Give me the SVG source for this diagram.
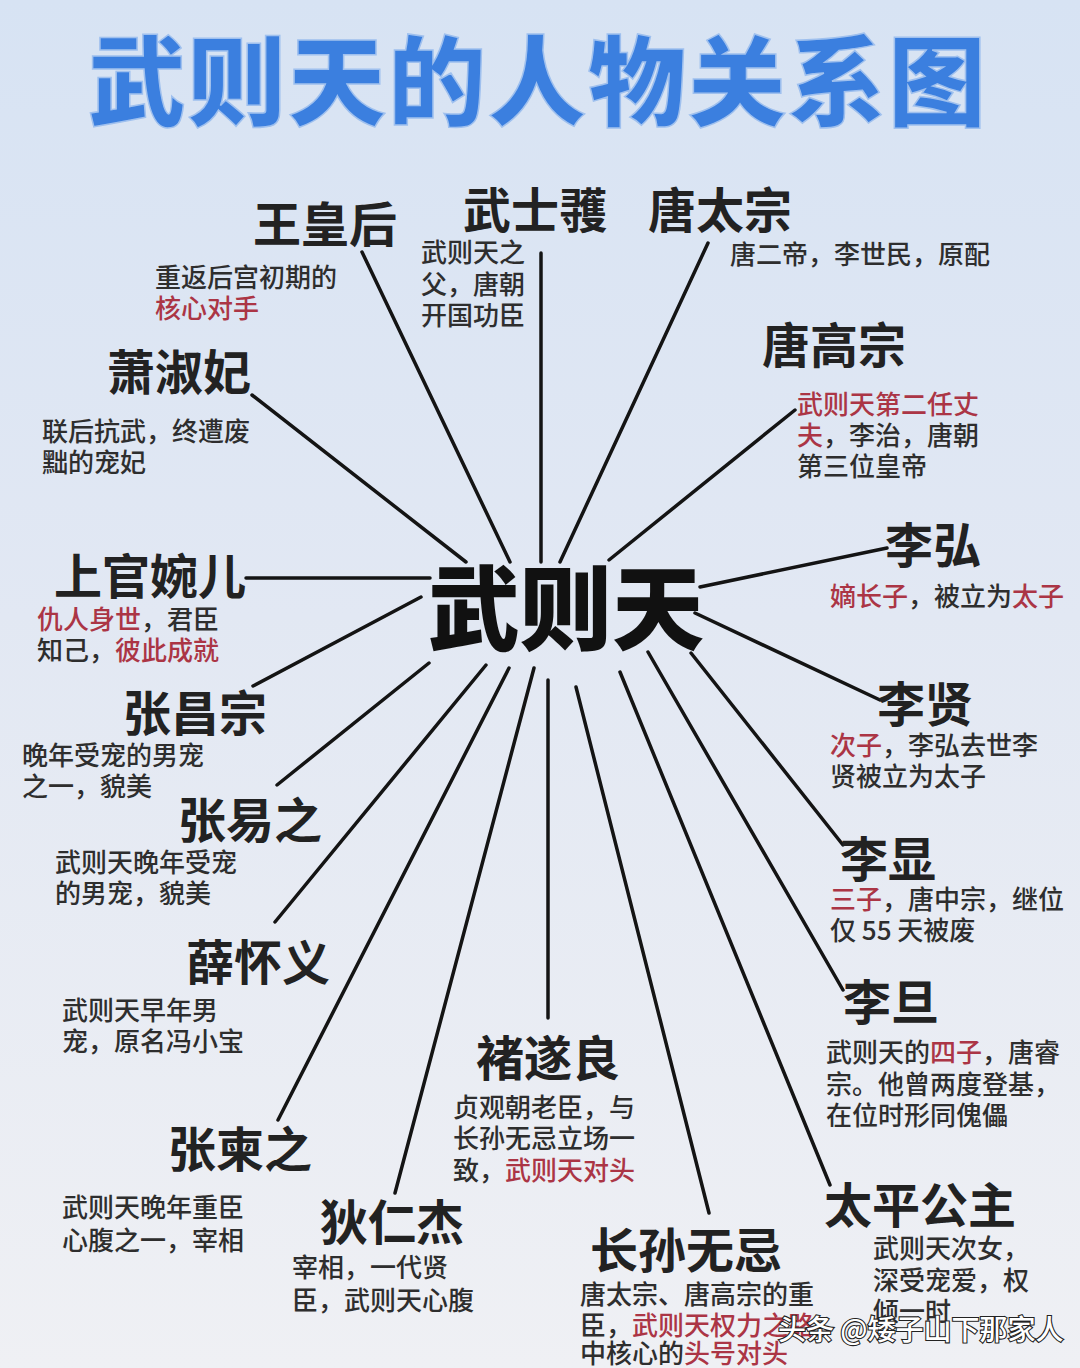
<svg xmlns="http://www.w3.org/2000/svg" width="1080" height="1368" viewBox="0 0 1080 1368">
  <defs>
    <linearGradient id="bg" x1="0" y1="0" x2="0" y2="1">
      <stop offset="0" stop-color="#d7e3f3"/>
      <stop offset="0.45" stop-color="#e2e8f3"/>
      <stop offset="1" stop-color="#eff0f4"/>
    </linearGradient>
    <style>
      text { font-family: "Noto Sans CJK SC", "Noto Sans", sans-serif; }
      .title { font-size: 98px; font-weight: 900; fill: #3b7fdf; stroke: #9fc0ee; stroke-width: 1.5; letter-spacing: 2px; }
      .center { font-size: 92px; font-weight: 900; fill: #111111; }
      .name { font-size: 48px; font-weight: 700; fill: #222222; text-anchor: middle; }
      .desc { font-size: 26px; font-weight: 500; fill: #2e2e2e; }
      .red { fill: #ab3545; }
      .link { stroke: #141414; stroke-width: 3.5; stroke-linecap: round; fill: none; }
      .wm { font-size: 28px; font-weight: 500; fill: #ffffff; stroke: #222222; stroke-width: 2.2; paint-order: stroke; }
    </style>
  </defs>

  <rect x="0" y="0" width="1080" height="1368" fill="url(#bg)"/>

  <text class="title" x="538" y="118" text-anchor="middle">武则天的人物关系图</text>

  <g id="connectors">
    <line class="link" x1="362" y1="252" x2="510" y2="562"/>
    <line class="link" x1="252" y1="395" x2="466" y2="562"/>
    <line class="link" x1="541" y1="253" x2="541" y2="562"/>
    <line class="link" x1="708" y1="243" x2="560" y2="562"/>
    <line class="link" x1="795" y1="410" x2="609" y2="560"/>
    <line class="link" x1="246" y1="578" x2="430" y2="578"/>
    <line class="link" x1="700" y1="587" x2="887" y2="548"/>
    <line class="link" x1="695" y1="613" x2="880" y2="700"/>
    <line class="link" x1="421" y1="597" x2="253" y2="686"/>
    <line class="link" x1="429" y1="663" x2="277" y2="785"/>
    <line class="link" x1="486" y1="665" x2="275" y2="922"/>
    <line class="link" x1="509" y1="668" x2="278" y2="1120"/>
    <line class="link" x1="534" y1="668" x2="395" y2="1193"/>
    <line class="link" x1="548" y1="680" x2="548" y2="1018"/>
    <line class="link" x1="576" y1="687" x2="709" y2="1213"/>
    <line class="link" x1="620" y1="672" x2="830" y2="1185"/>
    <line class="link" x1="648" y1="652" x2="843" y2="990"/>
    <line class="link" x1="691" y1="653" x2="843" y2="845"/>
  </g>

  <g id="wuzetian">
    <text class="center" x="566" y="643" text-anchor="middle">武则天</text>
  </g>

  <g id="wanghuanghou">
    <text class="name" x="325" y="242">王皇后</text>
    <text class="desc" x="155" y="287">重返后宫初期的</text>
    <text class="desc red" x="155" y="318">核心对手</text>
  </g>

  <g id="wushihuo">
    <text class="name" x="535" y="228">武士彟</text>
    <text class="desc" x="421" y="262">武则天之</text>
    <text class="desc" x="421" y="294">父，唐朝</text>
    <text class="desc" x="421" y="325">开国功臣</text>
  </g>

  <g id="tangtaizong">
    <text class="name" x="720" y="228">唐太宗</text>
    <text class="desc" x="730" y="264">唐二帝，李世民，原配</text>
  </g>

  <g id="tanggaozong">
    <text class="name" x="834" y="363">唐高宗</text>
    <text class="desc red" x="797" y="414">武则天第二任丈</text>
    <text class="desc" x="797" y="445"><tspan class="red">夫</tspan>，李治，唐朝</text>
    <text class="desc" x="797" y="476">第三位皇帝</text>
  </g>

  <g id="xiaoshufei">
    <text class="name" x="179" y="390">萧淑妃</text>
    <text class="desc" x="42" y="441">联后抗武，终遭废</text>
    <text class="desc" x="42" y="472">黜的宠妃</text>
  </g>

  <g id="shangguanwaner">
    <text class="name" x="150" y="594">上官婉儿</text>
    <text class="desc" x="37" y="629"><tspan class="red">仇人身世</tspan>，君臣</text>
    <text class="desc" x="37" y="660">知己，<tspan class="red">彼此成就</tspan></text>
  </g>

  <g id="lihong">
    <text class="name" x="933" y="563">李弘</text>
    <text class="desc" x="830" y="606"><tspan class="red">嫡长子</tspan>，被立为<tspan class="red">太子</tspan></text>
  </g>

  <g id="lixian">
    <text class="name" x="925" y="722">李贤</text>
    <text class="desc" x="830" y="755"><tspan class="red">次子</tspan>，李弘去世李</text>
    <text class="desc" x="830" y="786">贤被立为太子</text>
  </g>

  <g id="zhangchangzong">
    <text class="name" x="195" y="731">张昌宗</text>
    <text class="desc" x="22" y="765">晚年受宠的男宠</text>
    <text class="desc" x="22" y="796">之一，貌美</text>
  </g>

  <g id="zhangyizhi">
    <text class="name" x="250" y="838">张易之</text>
    <text class="desc" x="55" y="872">武则天晚年受宠</text>
    <text class="desc" x="55" y="903">的男宠，貌美</text>
  </g>

  <g id="lixian2">
    <text class="name" x="888" y="877">李显</text>
    <text class="desc" x="830" y="909"><tspan class="red">三子</tspan>，唐中宗，继位</text>
    <text class="desc" x="830" y="940">仅 55 天被废</text>
  </g>

  <g id="xuehuaiyi">
    <text class="name" x="258" y="980">薛怀义</text>
    <text class="desc" x="62" y="1020">武则天早年男</text>
    <text class="desc" x="62" y="1051">宠，原名冯小宝</text>
  </g>

  <g id="lidan">
    <text class="name" x="891" y="1020">李旦</text>
    <text class="desc" x="826" y="1062">武则天的<tspan class="red">四子</tspan>，唐睿</text>
    <text class="desc" x="826" y="1094">宗。他曾两度登基，</text>
    <text class="desc" x="826" y="1125">在位时形同傀儡</text>
  </g>

  <g id="chusuiliang">
    <text class="name" x="548" y="1076">褚遂良</text>
    <text class="desc" x="453" y="1117">贞观朝老臣，与</text>
    <text class="desc" x="453" y="1148">长孙无忌立场一</text>
    <text class="desc" x="453" y="1180">致，<tspan class="red">武则天对头</tspan></text>
  </g>

  <g id="zhangjianzhi">
    <text class="name" x="240" y="1167">张柬之</text>
    <text class="desc" x="62" y="1217">武则天晚年重臣</text>
    <text class="desc" x="62" y="1250">心腹之一，宰相</text>
  </g>

  <g id="direnjie">
    <text class="name" x="392" y="1240">狄仁杰</text>
    <text class="desc" x="292" y="1277">宰相，一代贤</text>
    <text class="desc" x="292" y="1310">臣，武则天心腹</text>
  </g>

  <g id="taipinggongzhu">
    <text class="name" x="920" y="1223">太平公主</text>
    <text class="desc" x="873" y="1258">武则天次女，</text>
    <text class="desc" x="873" y="1290">深受宠爱，权</text>
    <text class="desc" x="873" y="1321">倾一时</text>
  </g>

  <g id="zhangsunwuji">
    <text class="name" x="686" y="1268">长孙无忌</text>
    <text class="desc" x="580" y="1304">唐太宗、唐高宗的重</text>
    <text class="desc" x="580" y="1335">臣，<tspan class="red">武则天权力之路</tspan></text>
    <text class="desc" x="580" y="1363">中核心的<tspan class="red">头号对头</tspan></text>
  </g>

  <text class="wm" x="778" y="1340">头条 @矮子山下那家人</text>
</svg>
